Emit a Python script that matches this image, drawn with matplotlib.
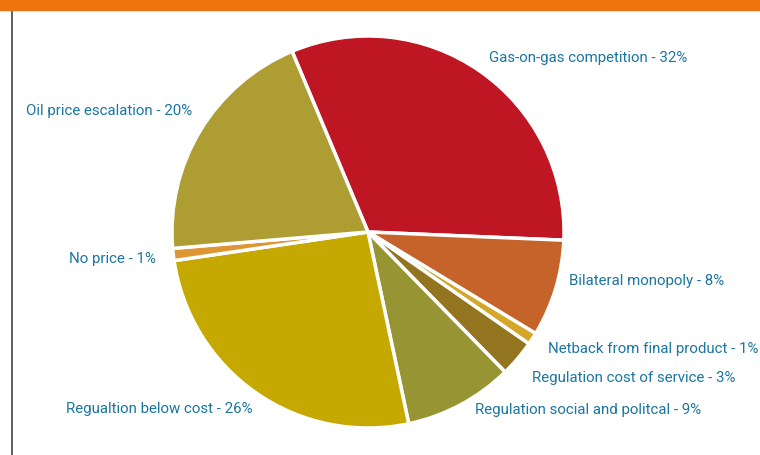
import matplotlib.pyplot as plt
from matplotlib.patches import Rectangle

# Gas pricing mechanisms share
labels = ['Gas-on-gas competition', 'Bilateral monopoly', 'Netback from final product',
          'Regulation cost of service', 'Regulation social and politcal',
          'Regualtion below cost', 'No price', 'Oil price escalation']
shares = [32, 8, 1, 3, 9, 26, 1, 20]
colors = ['#BE1622', '#C6632A', '#D4A62A', '#94751F', '#979433',
          '#C5A800', '#DC9633', '#AE9D33']

# label anchor points in pixel coords (x, y from top, alignment)
label_pos = [(489, 58, 'left'), (569, 281, 'left'), (548, 349, 'left'),
             (532, 378, 'left'), (475, 410, 'left'), (252, 409, 'right'),
             (156, 259, 'right'), (192, 111, 'right')]

W, H = 760, 456
fig = plt.figure(figsize=(W / 100, H / 100), dpi=100)
ax = fig.add_axes([0, 0, 1, 1])

ax.pie(shares, colors=colors, startangle=112.8, counterclock=False,
       center=(368, H - 233), radius=196,
       wedgeprops=dict(edgecolor='white', linewidth=2.5), frame=True)
ax.set_xlim(0, W)
ax.set_ylim(0, H)
ax.set_aspect('equal')
ax.axis('off')

for (lab, val), (x, y, ha) in zip(zip(labels, shares), label_pos):
    ax.text(x, H - y, f'{lab} - {val}%', ha=ha, va='center',
            color='#1B76A0', fontsize=10.8, family='Roboto')

# orange header strip and left rule
ax.add_patch(Rectangle((0, H - 11), W, 11, color='#EE7410', zorder=5))
ax.plot([12, 12], [0, H - 11], color='#444444', lw=1.2)

fig.savefig('out.png', dpi=100)
